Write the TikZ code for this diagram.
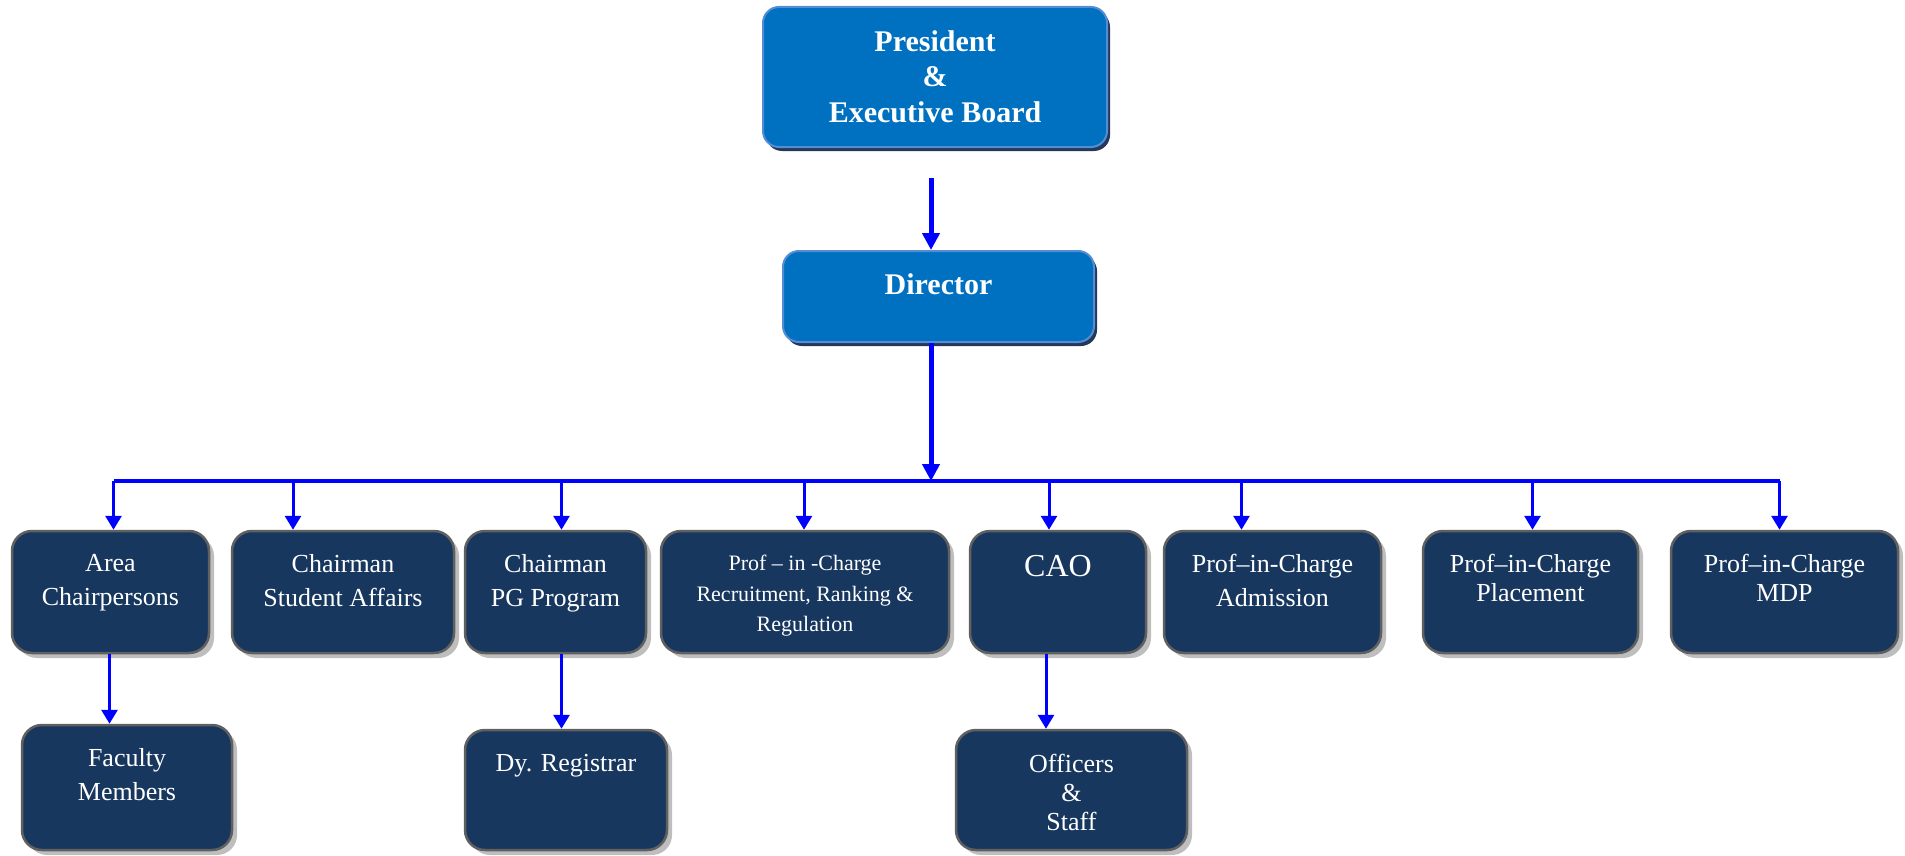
\documentclass[tikz,border=0pt]{standalone}
\usepackage{fontspec}
\setmainfont{Liberation Serif}
\usetikzlibrary{arrows.meta,shadows,calc}
\definecolor{topfill}{RGB}{0,112,192}
\definecolor{topedge}{RGB}{84,141,212}
\definecolor{topshadow}{RGB}{36,56,90}
\definecolor{rowfill}{RGB}{23,55,94}
\definecolor{rowedge}{RGB}{96,96,96}
\definecolor{rowshadow}{RGB}{190,190,190}
\definecolor{arrowblue}{RGB}{0,0,255}
\begin{document}
\begin{tikzpicture}[x=1pt,y=-1pt,
 topbox/.style={draw=topedge, line width=2pt, fill=topfill, rounded corners=16pt,
   drop shadow={shadow xshift=3pt, shadow yshift=-4pt, fill=topshadow, opacity=1}, inner sep=0pt},
 rowbox/.style={draw=rowedge, line width=2.5pt, fill=rowfill, rounded corners=20pt,
   drop shadow={shadow xshift=5pt, shadow yshift=-5pt, fill=rowshadow, opacity=1}, inner sep=0pt},
 toptext/.style={text=white, font=\fontsize{30}{35.5}\selectfont\bfseries, align=center, anchor=north, inner sep=0pt},
 rowtext/.style={text=white, font=\fontsize{26}{34}\selectfont, align=center, anchor=north, inner sep=0pt},
 tighttext/.style={rowtext, font=\fontsize{26}{29}\selectfont},
 smalltext/.style={rowtext, font=\fontsize{22}{30.5}\selectfont},
 bigtext/.style={rowtext, font=\fontsize{32}{38}\selectfont},
 trunk/.style={draw=arrowblue, line width=5pt, -{Triangle[width=17pt,length=17pt]}},
 busline/.style={draw=arrowblue, line width=3.7pt},
 drop/.style={draw=arrowblue, line width=3pt, -{Triangle[width=16pt,length=14pt]}},
]
\useasboundingbox (0,0) rectangle (1905,856);

% top boxes
\node[topbox, minimum width=344pt, minimum height=140pt] (pres) at (935,77) {};
\node[toptext] (presT) at (935,30) {President\\\&\\Executive Board};
\node[topbox, minimum width=311pt, minimum height=91pt] (dir) at (938.5,296.5) {};
\node[toptext] (dirT) at (938.5,273) {Director};

% row 1
\node[rowbox, minimum width=197pt, minimum height=122pt] (area) at (110.5,592) {};
\node[rowtext] (areaT) at (110.5,554) {Area\\Chairpersons};
\node[rowbox, minimum width=222pt, minimum height=122pt] (stu) at (343,592) {};
\node[rowtext] (stuT) at (343,554) {Chairman\\Student Affairs};
\node[rowbox, minimum width=181pt, minimum height=122pt] (pg) at (555.5,592) {};
\node[rowtext] (pgT) at (555.5,554) {Chairman\\PG Program};
\node[rowbox, minimum width=288pt, minimum height=122pt] (rec) at (805,592) {};
\node[smalltext] (recT) at (805,555) {Prof – in -Charge\\Recruitment, Ranking \&\\Regulation};
\node[rowbox, minimum width=176pt, minimum height=122pt] (cao) at (1058,592) {};
\node[bigtext] (caoT) at (1058,555) {CAO};
\node[rowbox, minimum width=217pt, minimum height=122pt] (adm) at (1272.5,592) {};
\node[rowtext] (admT) at (1272.5,554) {Prof–in-Charge\\Admission};
\node[rowbox, minimum width=215pt, minimum height=122pt] (plc) at (1530.5,592) {};
\node[tighttext] (plcT) at (1530.5,554) {Prof–in-Charge\\Placement};
\node[rowbox, minimum width=227pt, minimum height=122pt] (mdp) at (1784.5,592) {};
\node[tighttext] (mdpT) at (1784.5,554) {Prof–in-Charge\\MDP};

% row 2
\node[rowbox, minimum width=210pt, minimum height=125pt] (fac) at (127,787.5) {};
\node[rowtext] (facT) at (127,748) {Faculty\\Members};
\node[rowbox, minimum width=202pt, minimum height=120pt] (dyr) at (566,790) {};
\node[rowtext] (dyrT) at (566,754) {Dy. Registrar};
\node[rowbox, minimum width=231pt, minimum height=120pt] (off) at (1071.5,790) {};
\node[tighttext] (offT) at (1071.5,754) {Officers\\\&\\Staff};

% connectors
\coordinate (bus) at (0,481);
\coordinate (tA) at ([xshift=-4pt]pres.south);
\draw[trunk] ([yshift=-30pt]tA) -- (tA |- dir.north);
\draw[trunk] (tA |- dir.south) -- (tA |- bus);

\coordinate (dA) at ([xshift=3pt]area.north);
\coordinate (dS) at ([xshift=-50pt]stu.north);
\coordinate (dP) at ([xshift=6pt]pg.north);
\coordinate (dR) at ([xshift=-1pt]rec.north);
\coordinate (dC) at ([xshift=-9pt]cao.north);
\coordinate (dAd) at ([xshift=-31pt]adm.north);
\coordinate (dPl) at ([xshift=2pt]plc.north);
\coordinate (dM) at ([xshift=-5pt]mdp.north);
\draw[busline] (dA |- bus) -- (dM |- bus);
\foreach \c in {dA,dS,dP,dR,dC,dAd,dPl,dM}
  \draw[drop] (\c |- bus) -- (\c);

\coordinate (dF) at ([xshift=-1pt]area.south);
\draw[drop] (dF) -- (dF |- fac.north);
\coordinate (dD) at ([xshift=6pt]pg.south);
\draw[drop] (dD) -- (dD |- dyr.north);
\coordinate (dO) at ([xshift=-12pt]cao.south);
\draw[drop] (dO) -- (dO |- off.north);
\end{tikzpicture}
\end{document}
